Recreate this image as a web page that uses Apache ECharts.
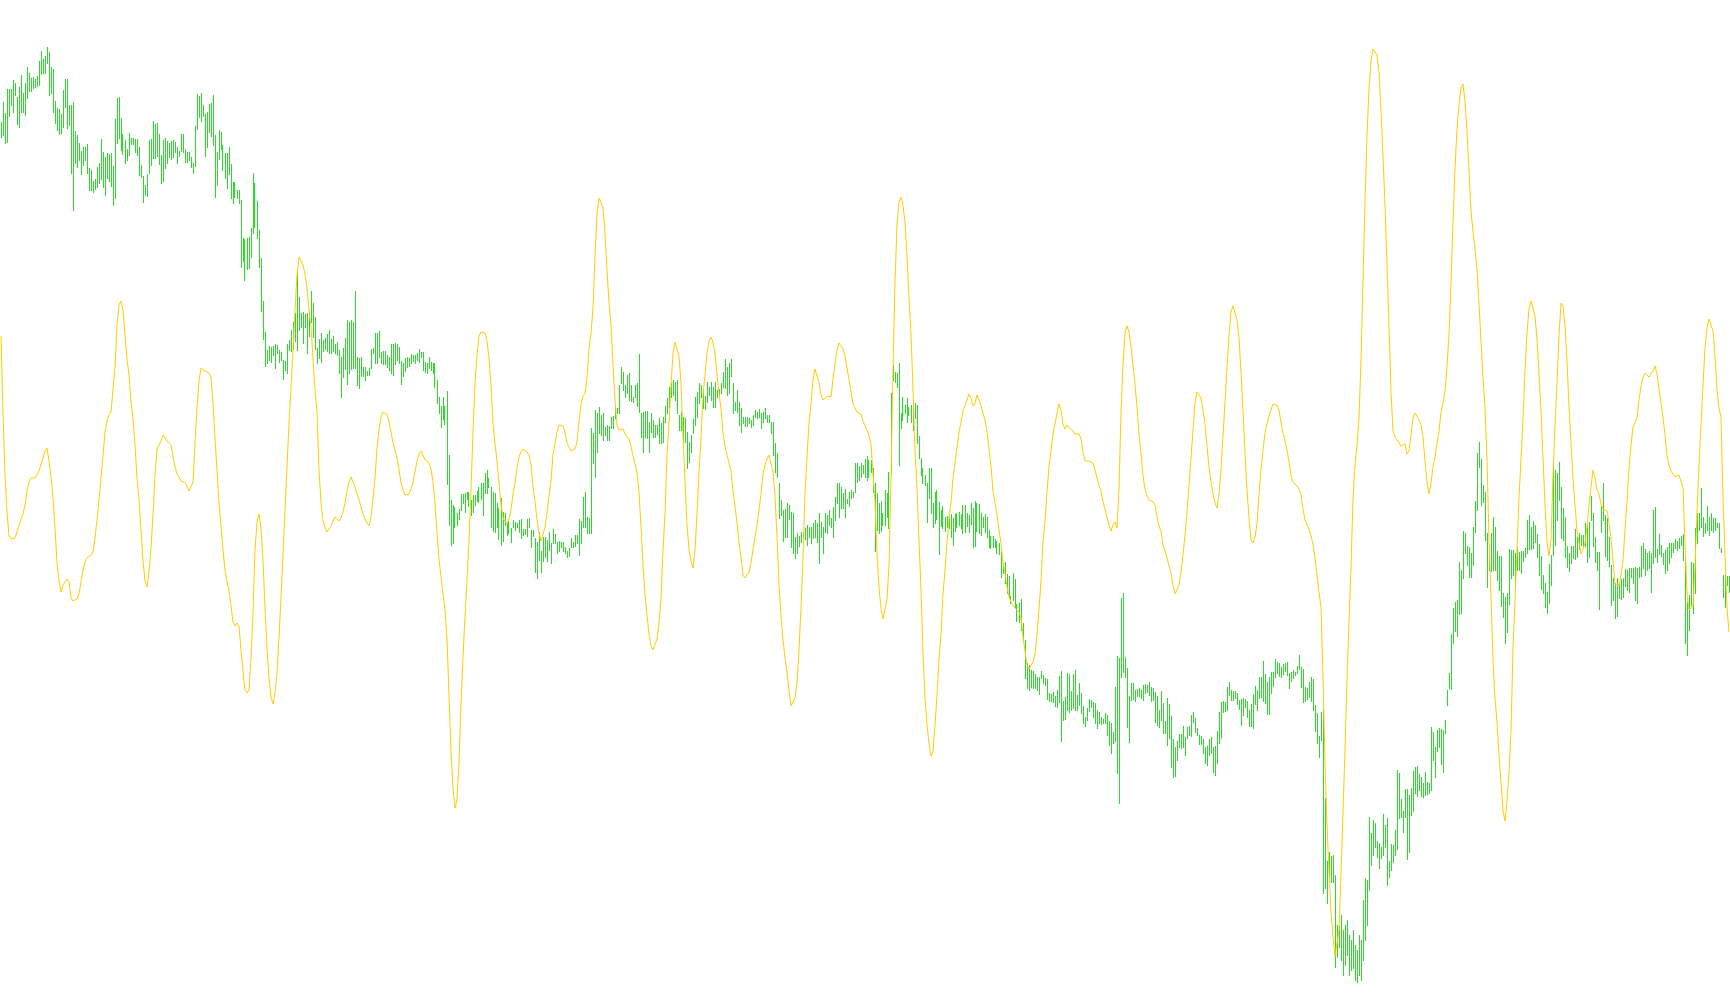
<!DOCTYPE html>
<html>
<head>
<meta charset="utf-8">
<script src="https://cdn.jsdelivr.net/npm/echarts@6/dist/echarts.min.js"></script>
<style>
html,body{margin:0;padding:0;background:#ffffff;overflow:hidden;}
#chart{width:1730px;height:1005px;}
</style>
</head>
<body>
<div id="chart"></div>
<script>
// Price scale runs downward (inverted axis): smaller value = higher on the chart.
const barHigh = [
122,102,113,89,89,89,80,83,97,87,
75,93,83,67,73,78,77,79,76,61,
51,59,56,47,52,67,69,101,108,109,
114,90,79,79,105,105,102,131,135,143,
151,147,147,144,168,170,181,179,167,163,
139,152,157,153,154,153,166,119,98,97,
118,134,140,149,133,138,138,139,139,147,
165,176,185,174,140,139,121,124,123,134,
155,140,138,141,143,141,140,142,147,151,
134,134,149,152,152,157,163,126,94,96,
93,105,114,112,104,103,95,135,152,130,
132,145,153,153,147,164,182,182,190,190,
200,238,239,238,237,228,173,183,201,230,
258,301,332,350,346,347,346,344,345,350,
352,360,361,344,340,330,322,313,268,297,
313,312,314,313,312,291,303,317,348,339,
333,340,338,334,330,339,336,344,342,350,
357,348,338,320,322,320,322,291,357,358,
357,367,367,371,368,349,348,333,333,331,
352,351,351,355,357,344,344,343,344,347,
361,363,358,357,358,354,355,355,353,349,
352,352,362,363,357,362,363,363,380,397,
406,397,406,391,455,500,505,507,513,509,
494,494,493,492,492,500,495,495,491,487,
483,483,473,470,478,487,492,493,503,508,
498,512,513,522,519,528,520,522,523,520,
519,529,529,519,518,530,530,538,542,532,
551,537,537,540,532,543,529,534,542,541,
542,542,547,551,548,538,542,535,535,519,
521,497,492,517,518,428,433,410,413,407,
415,413,427,425,426,417,416,405,408,385,
367,372,385,375,373,385,397,385,383,354,
413,412,411,411,422,413,420,425,425,418,
423,417,406,398,387,383,380,382,380,415,
412,417,418,432,442,435,419,397,392,383,
385,389,396,382,387,382,387,382,390,389,
383,372,359,367,363,359,383,402,390,402,
408,417,417,417,418,420,415,410,412,409,
413,412,408,415,415,422,422,443,453,483,
500,510,509,503,505,512,513,537,533,536,
532,532,528,525,527,527,523,520,523,513,
522,527,513,515,510,518,507,497,483,483,
487,493,489,499,492,490,492,463,463,466,
463,465,459,456,460,460,468,483,493,503,
501,513,490,493,472,393,365,372,373,363,
413,397,405,398,407,405,400,403,405,436,
458,468,475,483,468,468,503,492,490,502,
510,506,517,516,517,514,518,514,513,512,
514,505,505,513,515,503,508,501,503,504,
513,517,514,517,530,536,536,539,541,543,
552,563,562,574,576,596,573,579,604,603,
599,623,640,663,665,670,671,674,677,677,
671,675,678,679,693,694,692,696,690,676,
671,701,697,673,674,691,674,670,695,683,
693,706,717,708,699,700,702,703,710,712,
717,719,713,715,721,723,732,687,656,658,
598,593,657,668,696,683,683,690,689,688,
690,685,684,685,682,687,688,692,696,710,
691,703,721,698,704,716,739,747,741,734,
734,726,737,727,726,715,712,718,728,735,
736,739,747,746,739,737,747,746,731,712,
702,701,702,687,682,690,691,691,693,700,
699,698,699,701,710,704,694,686,690,677,
677,661,674,682,677,672,672,659,662,663,
667,664,663,662,673,672,670,672,666,655,
667,669,687,688,682,677,679,705,713,736,
712,710,798,861,852,856,855,875,925,926,
915,930,925,920,935,940,930,945,950,935,
940,900,878,880,817,833,820,823,841,843,
847,814,825,818,861,844,845,830,770,773,
799,811,789,789,795,788,771,767,766,774,
777,783,772,782,783,727,732,747,730,728,
729,730,720,690,673,634,608,602,600,562,
570,531,533,546,547,553,527,501,453,442,
459,485,492,533,557,533,517,527,551,556,
556,593,597,593,549,550,550,553,547,552,
551,551,548,520,515,527,521,525,534,544,
556,575,583,592,564,555,463,470,473,462,
487,508,517,546,553,546,546,529,537,533,
535,535,523,524,522,496,513,537,552,552,
506,483,515,518,537,565,578,583,578,583,
579,578,569,570,568,568,568,567,568,567,
546,543,549,553,551,553,510,507,549,534,
545,553,550,547,543,543,543,539,541,538,
536,534,557,602,595,562,563,528,513,513,
488,517,523,506,517,513,518,518,523,523,
548,575,575,576,576
];
const barLow = [
137,135,143,142,116,105,112,95,124,127,
112,112,115,98,91,91,88,87,86,85,
74,73,73,63,95,93,112,123,130,134,
133,127,107,128,125,173,210,163,167,160,
174,165,160,173,190,190,192,189,187,183,
179,187,195,178,181,186,205,198,143,138,
150,154,163,160,155,144,144,152,155,175,
177,202,195,196,173,165,158,158,156,164,
183,181,168,163,157,159,157,152,163,156,
151,152,162,162,160,167,173,166,129,117,
121,116,156,147,132,136,145,197,185,159,
149,170,178,188,174,198,203,197,198,203,
267,261,280,269,268,257,233,227,238,267,
311,339,366,363,360,362,355,368,353,362,
360,379,370,373,350,351,349,341,350,330,
327,343,327,353,336,322,337,349,363,358,
362,351,349,351,353,353,351,353,355,373,
397,377,369,384,373,369,368,368,385,388,
376,376,380,375,375,368,353,363,363,357,
363,364,364,367,370,373,375,364,360,363,
384,376,371,367,366,363,361,363,360,362,
357,370,372,373,368,370,373,387,403,413,
427,419,424,484,525,545,543,527,525,519,
510,503,512,499,506,515,512,505,501,502,
499,515,493,493,487,527,531,532,527,539,
545,541,525,535,533,542,527,530,527,532,
538,535,534,536,527,547,536,572,578,560,
572,561,557,561,550,563,543,543,553,551,
547,551,553,557,556,547,547,546,543,555,
543,527,527,533,533,533,463,477,452,433,
435,440,435,440,440,428,428,418,413,413,
383,390,397,393,400,401,402,397,406,412,
437,452,437,438,452,432,437,437,434,443,
443,442,422,413,407,397,395,400,413,430,
430,442,442,468,462,452,433,425,417,403,
397,408,409,402,395,400,407,407,397,397,
393,387,388,395,393,376,413,410,412,425,
432,423,426,426,423,427,425,417,418,417,
428,422,418,422,422,433,455,472,477,518,
515,541,537,537,519,547,553,558,553,546,
542,540,539,545,537,543,538,537,542,563,
537,553,532,533,525,527,537,520,503,517,
508,508,517,503,506,498,497,492,482,480,
477,473,477,480,477,472,492,551,530,533,
531,525,525,517,528,473,380,382,387,465,
428,420,413,422,415,422,430,418,443,458,
475,483,485,522,498,513,527,523,519,554,
526,528,531,527,528,537,545,531,527,525,
528,533,532,526,532,524,547,546,531,533,
535,527,532,537,547,548,547,547,553,554,
577,573,583,593,598,603,600,607,621,622,
630,640,678,688,690,687,688,688,690,694,
678,683,685,699,701,701,702,706,707,702,
741,720,719,710,712,710,708,710,710,705,
713,723,726,720,711,707,717,723,728,723,
724,723,723,735,745,753,743,741,773,803,
677,672,677,727,742,700,699,701,696,696,
698,700,693,692,695,701,700,722,725,727,
720,733,733,745,738,767,777,776,760,747,
748,747,755,738,735,736,722,732,735,744,
744,753,763,765,755,753,772,775,763,743,
738,712,711,710,695,700,700,698,704,709,
725,715,707,717,726,726,728,704,710,698,
697,701,703,714,714,693,686,677,673,676,
677,674,671,675,688,681,678,675,673,669,
687,702,701,699,697,701,710,731,743,757,
740,893,888,903,877,882,882,967,957,947,
960,975,965,955,975,970,968,980,982,975,
980,960,940,925,890,865,855,847,857,868,
858,855,847,885,877,870,862,855,849,818,
817,832,817,859,852,815,811,793,796,790,
796,797,795,794,793,790,760,777,751,747,
764,772,733,705,688,689,643,631,636,614,
613,578,553,565,577,577,565,532,510,467,
505,502,540,587,570,571,570,570,580,590,
606,617,643,632,604,578,575,585,570,570,
573,561,557,553,549,549,548,542,557,575,
589,593,607,613,603,585,555,545,520,500,
538,540,557,567,571,563,558,559,557,549,
545,547,546,562,557,520,546,562,570,609,
532,520,556,560,566,605,600,618,616,598,
599,597,586,590,592,577,583,600,603,577,
576,568,575,570,568,592,563,557,562,554,
556,564,573,570,563,557,552,548,550,548,
545,560,643,655,630,605,613,593,543,530,
527,536,533,530,535,530,532,530,527,548,
552,597,607,585,592
];
const oscillator = [
336,415,475,512,536,539,537,538,536,526,
519,514,505,491,482,478,477,478,477,471,
464,458,451,448,461,477,498,528,563,580,
592,585,582,579,582,598,601,599,599,594,
582,570,562,558,556,555,552,538,520,500,
478,456,432,421,415,412,412,367,325,305,
301,310,335,359,375,402,419,445,478,499,
531,560,581,587,572,548,515,475,449,448,
441,435,436,441,442,445,456,467,474,477,
481,483,483,486,491,492,482,443,408,381,
368,369,371,372,373,377,404,438,471,503,
526,550,570,582,591,606,622,626,623,626,
650,672,690,693,690,658,612,550,522,514,
528,560,608,648,678,697,704,693,673,637,
597,555,510,468,423,388,350,310,275,257,
257,265,274,288,310,327,358,390,412,470,
502,521,528,532,530,526,521,517,518,521,
518,512,503,491,482,477,476,487,494,500,
507,514,519,523,526,517,498,478,448,430,
417,412,410,414,422,432,443,450,458,470,
483,490,495,496,494,489,482,472,461,454,
451,455,460,462,463,469,482,503,533,559,
577,594,610,639,695,751,789,808,800,762,
705,658,616,580,540,490,431,383,355,336,
332,332,333,341,358,385,423,444,461,483,
504,518,521,524,519,510,494,483,468,457,
452,449,449,452,455,464,487,501,520,533,
541,539,527,513,496,481,454,444,432,425,
423,426,432,443,447,451,452,449,442,422,
404,396,393,378,348,333,308,255,214,198,
197,208,233,270,303,325,365,400,425,430,
428,429,434,436,439,446,456,464,473,492,
527,565,595,615,634,646,650,648,639,624,
598,550,514,455,422,385,353,342,342,357,
383,436,481,525,549,561,568,550,514,472,
438,395,375,353,341,337,342,354,375,393,
409,433,446,455,463,471,491,506,523,543,
557,575,578,577,572,563,550,537,525,510,
494,474,465,459,455,456,472,495,537,585,
616,640,658,672,690,706,706,698,683,650,
608,558,493,457,423,404,379,369,369,383,
395,400,398,396,395,397,379,364,350,343,
342,349,356,368,380,392,404,408,412,413,
414,421,426,430,436,444,475,502,553,588,
608,619,618,599,565,480,368,283,225,202,
197,206,222,256,299,333,390,451,487,540,
590,653,698,725,744,756,751,725,695,660,
634,594,571,543,518,503,478,463,447,432,
422,411,406,400,394,398,406,403,395,400,
406,413,420,432,449,466,491,503,515,530,
543,563,573,587,597,602,602,608,610,612,
618,637,651,665,669,668,662,654,635,609,
581,542,521,492,467,451,434,424,413,404,
410,424,429,425,428,430,431,434,435,434,
439,452,461,462,461,460,463,470,478,485,
491,502,509,517,525,531,525,522,528,490,
411,365,333,326,332,347,365,384,407,434,
453,476,489,496,500,502,502,505,517,526,
531,545,551,558,566,573,585,594,594,585,
572,555,535,512,485,458,430,403,392,391,
398,410,424,446,467,482,494,503,508,494,
470,436,402,367,335,312,306,308,320,338,
372,410,453,490,518,540,543,537,524,495,
469,450,433,424,416,410,404,403,405,410,
422,433,441,450,462,476,482,484,486,489,
495,509,520,525,529,536,544,558,575,592,
607,675,763,825,872,912,937,956,957,930,
874,813,748,678,621,567,499,465,445,418,
360,280,202,136,88,61,49,47,55,72,
110,156,205,265,327,391,431,437,439,443,
446,448,444,454,451,435,418,413,416,420,
425,437,461,482,494,483,467,457,443,432,
412,403,391,367,334,284,221,169,129,105,
88,84,101,131,171,211,232,249,269,304,
341,378,408,460,540,597,661,698,722,755,
783,811,821,801,772,731,648,600,550,498,
459,420,370,333,309,301,303,316,339,375,
412,457,505,542,556,540,475,425,383,335,
303,306,325,360,408,443,479,505,530,543,
554,554,543,527,505,487,470,478,490,494,
504,509,507,511,523,538,560,584,586,585,
575,561,529,502,467,445,427,425,418,400,
386,377,373,373,377,375,371,366,374,389,
404,417,435,456,465,471,474,477,479,475,
475,488,543,593,610,612,606,567,512,464,
425,385,348,328,319,320,331,355,390,408,
417,498,555,607,632
];
const barNumbers = barHigh.map((_, i) => String(i + 1));
const rangeData = barHigh.map((h, i) => [i, h, barLow[i]]);

const chart = echarts.init(document.getElementById('chart'), null, {renderer: 'canvas'});
chart.setOption({
  backgroundColor: '#ffffff',
  animation: false,
  grid: {left: 0, top: 0, width: 1730, height: 1005, containLabel: false},
  xAxis: {type: 'category', data: barNumbers, boundaryGap: true, show: false},
  yAxis: {type: 'value', min: 0, max: 1005, inverse: true, show: false, splitLine: {show: false}},
  series: [
    {
      type: 'custom',
      data: rangeData,
      encode: {x: 0, y: [1, 2]},
      clip: false,
      z: 2,
      renderItem: function (params, api) {
        const top = api.coord([api.value(0), api.value(1)]);
        const bottom = api.coord([api.value(0), api.value(2)]);
        // 1px-wide range bar aligned to whole pixels (no anti-aliasing)
        const left = Math.round(top[0] - 0.5);
        const y1 = Math.round(top[1]);
        const y2 = Math.round(bottom[1]);
        return {
          type: 'rect',
          silent: true,
          shape: {x: left, y: y1, width: 1, height: Math.max(1, y2 - y1 + 1)},
          style: {fill: '#22e022'}
        };
      }
    },
    {
      type: 'line',
      data: oscillator,
      symbol: 'none',
      smooth: false,
      z: 3,
      silent: true,
      lineStyle: {color: '#ffcc00', width: 1}
    }
  ]
});
</script>
</body>
</html>
